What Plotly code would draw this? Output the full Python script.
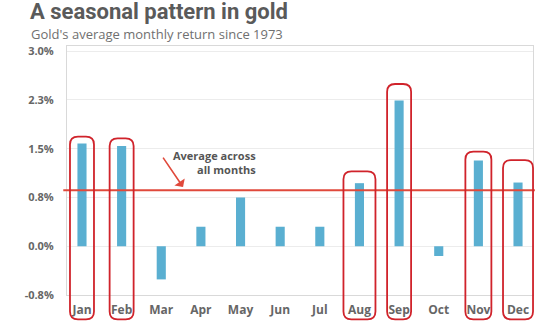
import plotly.graph_objects as go

# ---- data ----
months = ["Jan", "Feb", "Mar", "Apr", "May", "Jun", "Jul", "Aug", "Sep", "Oct", "Nov", "Dec"]
avg_return = [1.58, 1.54, -0.51, 0.30, 0.75, 0.30, 0.30, 0.97, 2.24, -0.15, 1.32, 0.98]
average_all = 0.86
ytick_vals = [-0.75, 0.0, 0.75, 1.5, 2.25, 3.0]
ytick_text = ["-0.8%", "0.0%", "0.8%", "1.5%", "2.3%", "3.0%"]
highlighted = ["Jan", "Feb", "Aug", "Sep", "Nov", "Dec"]

# ---- layout geometry / style ----
W, H = 554, 330
ML, MR, MT, MB = 67, 21, 46, 29
PW, PH = W - ML - MR, H - MT - MB
XR = [-0.378, 11.378]
YR = [-0.75, 3.08]
BAR = "#5aafd1"
RED_LINE = "#e0493b"
BOX = "#d0232b"
GREY = "#666666"

# rectangle styling per highlighted month: (half width px, pad above bar px)
box_style = {"Jan": (12, 7), "Feb": (12, 8), "Aug": (16, 12),
             "Sep": (12, 17), "Nov": (13, 9), "Dec": (15, 23)}
BOX_BOTTOM_PX = 326
RAD = 8


def to_px(i, v):
    x = ML + (i - XR[0]) / (XR[1] - XR[0]) * PW
    y = MT + PH - (v - YR[0]) / (YR[1] - YR[0]) * PH
    return x, y


def px_to_paper(x, y):
    return (x - ML) / PW, (MT + PH - y) / PH


def rounded_rect_path(x0, y0, x1, y1, r):
    def P(x, y):
        px, py = px_to_paper(x, y)
        return f"{px:.5f},{py:.5f}"
    return (f"M {P(x0 + r, y0)} L {P(x1 - r, y0)} Q {P(x1, y0)} {P(x1, y0 + r)} "
            f"L {P(x1, y1 - r)} Q {P(x1, y1)} {P(x1 - r, y1)} "
            f"L {P(x0 + r, y1)} Q {P(x0, y1)} {P(x0, y1 - r)} "
            f"L {P(x0, y0 + r)} Q {P(x0, y0)} {P(x0 + r, y0)} Z")


fig = go.Figure()
fig.add_trace(go.Bar(
    x=list(range(len(months))), y=avg_return,
    marker=dict(color=BAR, line=dict(width=0)),
    width=0.23, hoverinfo="skip",
))

shapes = []
shapes.append(dict(type="line", xref="paper", yref="y",
                   x0=-0.008, x1=1.004, y0=average_all, y1=average_all,
                   line=dict(color=RED_LINE, width=2), layer="above"))
for m in highlighted:
    i = months.index(m)
    hw, pad = box_style[m]
    cx, top = to_px(i, max(avg_return[i], 0))
    shapes.append(dict(type="path", xref="paper", yref="paper",
                       path=rounded_rect_path(cx - hw, top - pad, cx + hw, BOX_BOTTOM_PX, RAD),
                       line=dict(color=BOX, width=1.8), layer="above"))

annotations = []
tx, ty = px_to_paper(28, 11)
annotations.append(dict(xref="paper", yref="paper", x=tx, y=ty, xanchor="left", yanchor="middle",
                        text="<b>A seasonal pattern in gold</b>", showarrow=False,
                        font=dict(family="Roboto", size=22, color="#5a5a5a")))
sx, sy = px_to_paper(29, 34)
annotations.append(dict(xref="paper", yref="paper", x=sx, y=sy, xanchor="left", yanchor="middle",
                        text="Gold's average monthly return since 1973", showarrow=False,
                        font=dict(family="Open Sans", size=13, color="#707070")))
annotations.append(dict(xref="x", yref="y", x=4.45, y=1.29, xanchor="right", yanchor="middle",
                        text="<b>Average across<br>all months</b>", align="right", showarrow=False,
                        font=dict(family="Open Sans", size=11, color="#555555")))
annotations.append(dict(xref="x", yref="y", x=2.55, y=average_all + 0.05, axref="pixel", ayref="pixel",
                        ax=-21, ay=-31, text="", showarrow=True, arrowhead=1, arrowsize=1.3,
                        arrowwidth=1.6, arrowcolor=RED_LINE))

fig.update_layout(
    width=W, height=H, margin=dict(l=ML, r=MR, t=MT, b=MB),
    paper_bgcolor="white", plot_bgcolor="white",
    showlegend=False, shapes=shapes, annotations=annotations,
    font=dict(family="Open Sans", color=GREY),
    xaxis=dict(range=XR, tickvals=list(range(len(months))), ticktext=months,
               showgrid=False, zeroline=False, showline=True, linecolor="#d9d9d9",
               mirror=True, ticks="", ticklabelstandoff=4,
               tickfont=dict(family="Open Sans", size=12, color=GREY, weight="bold")),
    yaxis=dict(range=YR, tickvals=ytick_vals, ticktext=ytick_text,
               showgrid=True, gridcolor="#ececec", gridwidth=1, zeroline=False,
               showline=True, linecolor="#d9d9d9", mirror=True, ticks="",
               ticklabelstandoff=10,
               tickfont=dict(family="Open Sans", size=11, color=GREY, weight="bold")),
)

fig.write_html("out.html")
